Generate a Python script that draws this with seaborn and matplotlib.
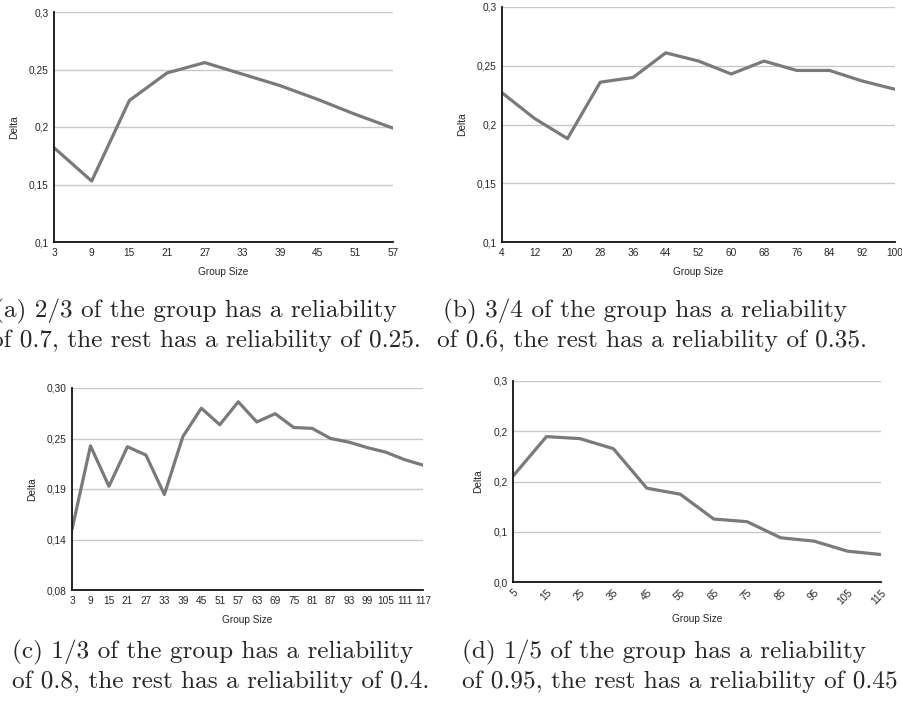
import numpy as np
import pandas as pd
import matplotlib
matplotlib.use("Agg")
import matplotlib.pyplot as plt
import seaborn as sns

# data
size_a = [3, 9, 15, 21, 27, 33, 39, 45, 51, 57]
delta_a = [0.182, 0.153, 0.223, 0.247, 0.256, 0.246, 0.236, 0.224, 0.211, 0.199]

size_b = [4, 12, 20, 28, 36, 44, 52, 60, 68, 76, 84, 92, 100]
delta_b = [0.227, 0.205, 0.188, 0.236, 0.240, 0.261, 0.254, 0.243, 0.254, 0.246, 0.246, 0.237, 0.230]

size_c = [3, 9, 15, 21, 27, 33, 39, 45, 51, 57, 63, 69, 75, 81, 87, 93, 99, 105, 111, 117]
delta_c = [0.146, 0.237, 0.193, 0.236, 0.227, 0.184, 0.247, 0.278, 0.260, 0.285,
           0.263, 0.272, 0.257, 0.256, 0.245, 0.241, 0.235, 0.230, 0.222, 0.216]

size_d = [5, 15, 25, 35, 45, 55, 65, 75, 85, 95, 105, 115]
delta_d = [0.158, 0.217, 0.214, 0.199, 0.140, 0.131, 0.094, 0.090, 0.066, 0.061, 0.046, 0.041]

yticks_ab = [0.1, 0.15, 0.2, 0.25, 0.3]
ylabels_ab = ["0,1", "0,15", "0,2", "0,25", "0,3"]
yticks_c = [0.08, 0.135, 0.19, 0.245, 0.30]
ylabels_c = ["0,08", "0,14", "0,19", "0,25", "0,30"]
yticks_d = [0.0, 0.075, 0.15, 0.225, 0.3]
ylabels_d = ["0,0", "0,1", "0,2", "0,2", "0,3"]

captions = [
    ("(a) 2/3 of the group has a reliability", "of 0.7, the rest has a reliability of 0.25."),
    ("(b) 3/4 of the group has a reliability", "of 0.6, the rest has a reliability of 0.35."),
    ("(c) 1/3 of the group has a reliability", "of 0.8, the rest has a reliability of 0.4."),
    ("(d) 1/5 of the group has a reliability", "of 0.95, the rest has a reliability of 0.45"),
]

sns.set_theme(style="white")
plt.rcParams['font.family'] = ['Liberation Sans', 'DejaVu Sans']

W, H = 903, 704
fig = plt.figure(figsize=(W / 100, H / 100), dpi=100)


def box(left, top, right, bottom):
    return [left / W, 1 - bottom / H, (right - left) / W, (bottom - top) / H]


panels = [
    (box(54, 12, 393, 242), size_a, delta_a, yticks_ab, ylabels_ab, size_a, 0),
    (box(502, 7, 895, 242), size_b, delta_b, yticks_ab, ylabels_ab, size_b, 0),
    (box(72, 388, 423, 590), size_c, delta_c, yticks_c, ylabels_c, size_c, 0),
    (box(513, 381, 881, 582), size_d, delta_d, yticks_d, ylabels_d, size_d, 45),
]

for rect, xs, ys, yt, yl, xt, rot in panels:
    ax = fig.add_axes(rect)
    df = pd.DataFrame({'Group Size': xs, 'Delta': ys})
    sns.lineplot(data=df, x='Group Size', y='Delta', ax=ax, color='#7a7a7a', linewidth=2.3)
    ax.set_xlim(xs[0], xs[-1])
    ax.set_ylim(yt[0], yt[-1])
    ax.set_yticks(yt)
    ax.set_yticklabels(yl, fontsize=7.3)
    ax.set_xticks(xt)
    ax.set_xticklabels([str(v) for v in xt], fontsize=7.3, rotation=rot,
                       ha='center' if rot == 0 else 'right', rotation_mode='anchor' if rot else 'default')
    ax.tick_params(length=0, pad=4)
    ax.grid(axis='y', color='#c8c8c8', linewidth=1)
    ax.grid(axis='x', visible=False)
    ax.set_axisbelow(True)
    for s in ['top', 'right']:
        ax.spines[s].set_visible(False)
    for s in ['left', 'bottom']:
        ax.spines[s].set_color('#111111')
        ax.spines[s].set_linewidth(1.3)
    ax.set_xlabel('Group Size', fontsize=7.3, labelpad=7 if rot == 0 else 5)
    ax.set_ylabel('Delta', fontsize=7.3, labelpad=7)

# captions in a LaTeX-like serif
cap_pos = [(-6, 317, -9, 347), (443, 317, 437, 347), (12, 658, 12, 688), (462, 658, 462, 688)]
for (l1, l2), (x1, y1, x2, y2) in zip(captions, cap_pos):
    fig.text(x1 / W, 1 - y1 / H, l1, family='cmr10', fontsize=18.2, va='baseline', ha='left')
    fig.text(x2 / W, 1 - y2 / H, l2, family='cmr10', fontsize=18.2, va='baseline', ha='left')

fig.savefig('out.png', dpi=100)
